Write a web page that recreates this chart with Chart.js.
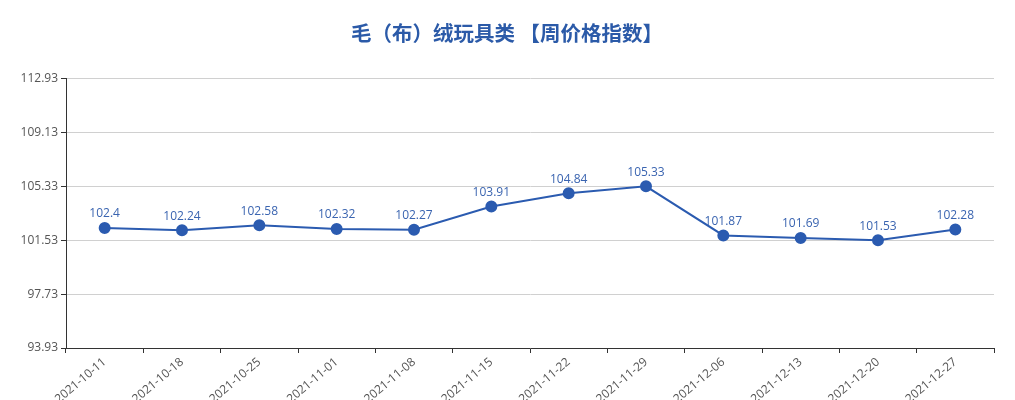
<!DOCTYPE html>
<html>
<head>
<meta charset="utf-8">
<script src="https://cdn.jsdelivr.net/npm/chart.js@4"></script>
<style>
  html, body { margin: 0; padding: 0; background: #fff; }
  #box { width: 1015px; height: 400px; }
</style>
</head>
<body>
<div id="box"><canvas id="priceChart"></canvas></div>
<script>
const weeks = ['2021-10-11', '2021-10-18', '2021-10-25', '2021-11-01', '2021-11-08', '2021-11-15',
  '2021-11-22', '2021-11-29', '2021-12-06', '2021-12-13', '2021-12-20', '2021-12-27'];
const indexValues = [102.4, 102.24, 102.58, 102.32, 102.27, 103.91, 104.84, 105.33, 101.87, 101.69, 101.53, 102.28];
const yTicks = [93.93, 97.73, 101.53, 105.33, 109.13, 112.93];

const blue = '#2b5bb0';

// draws the value above every point
const pointLabels = {
  id: 'pointLabels',
  afterDatasetsDraw(chart) {
    const c = chart.ctx;
    const meta = chart.getDatasetMeta(0);
    c.save();
    c.font = '12px "Open Sans", "Noto Sans", sans-serif';
    c.fillStyle = '#3a64b0';
    c.textAlign = 'center';
    c.textBaseline = 'bottom';
    meta.data.forEach((pt, i) => {
      c.fillText(String(indexValues[i]), pt.x, pt.y - 8);
    });
    c.restore();
  }
};

new Chart(document.getElementById('priceChart'), {
  type: 'line',
  data: {
    labels: weeks,
    datasets: [{
      data: indexValues,
      borderColor: blue,
      backgroundColor: blue,
      borderWidth: 2,
      pointRadius: 5,
      pointHoverRadius: 5,
      pointBackgroundColor: blue,
      pointBorderColor: blue,
      tension: 0,
      fill: false
    }]
  },
  options: {
    responsive: true,
    maintainAspectRatio: false,
    animation: false,
    layout: { padding: { left: 20, right: 21, top: 0, bottom: 0 } },
    plugins: {
      legend: { display: false },
      tooltip: { enabled: false },
      title: {
        display: true,
        text: '毛（布）绒玩具类 【周价格指数】',
        color: '#2b5aa8',
        font: { family: '"Noto Sans CJK SC", sans-serif', size: 20.5, weight: 'bold' },
        padding: { top: 21, bottom: 33 }
      }
    },
    scales: {
      x: {
        offset: true,
        grid: {
          offset: true,
          drawOnChartArea: false,
          drawTicks: true,
          tickLength: 5,
          color: '#333'
        },
        border: { color: '#333', width: 1 },
        ticks: {
          color: '#555',
          font: { family: '"Open Sans", "Noto Sans", sans-serif', size: 12 },
          minRotation: 40,
          maxRotation: 40,
          autoSkip: false,
          padding: 2
        },
        afterFit(scale) { scale.height = 52; }
      },
      y: {
        min: yTicks[0],
        max: yTicks[yTicks.length - 1],
        afterBuildTicks(scale) {
          scale.ticks = yTicks.map(v => ({ value: v }));
        },
        grid: {
          color: '#d0d0d0',
          tickLength: 5,
          tickColor: '#333',
          drawTicks: true
        },
        border: { color: '#333', width: 1 },
        ticks: {
          color: '#555',
          font: { family: '"Open Sans", "Noto Sans", sans-serif', size: 12 },
          padding: 3,
          callback: v => Number(v).toFixed(2)
        },
        afterFit(scale) { scale.width = 46; }
      }
    }
  },
  plugins: [pointLabels]
});
</script>
</body>
</html>
